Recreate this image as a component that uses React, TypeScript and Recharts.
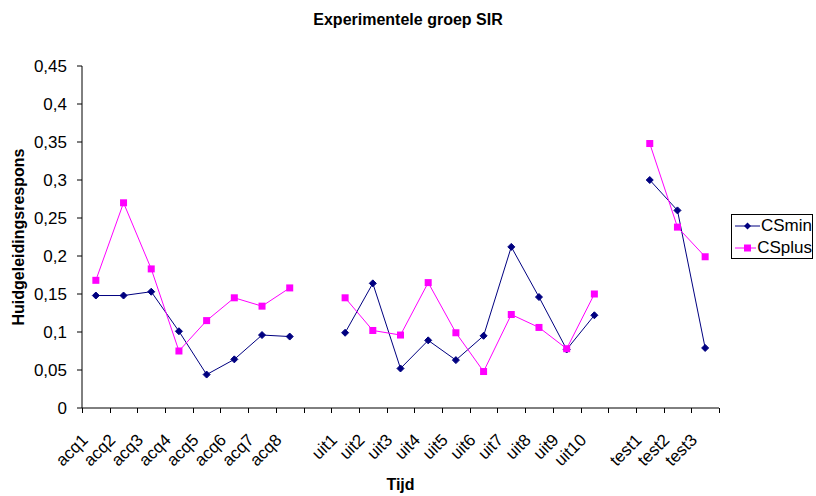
import { LineChart, Line, XAxis, YAxis, Legend } from 'recharts';

const categories = [
  'acq1', 'acq2', 'acq3', 'acq4', 'acq5', 'acq6', 'acq7', 'acq8', '',
  'uit1', 'uit2', 'uit3', 'uit4', 'uit5', 'uit6', 'uit7', 'uit8', 'uit9', 'uit10', '',
  'test1', 'test2', 'test3',
];

const csMin = [
  0.148, 0.148, 0.153, 0.101, 0.044, 0.064, 0.096, 0.094, null,
  0.099, 0.164, 0.052, 0.089, 0.063, 0.095, 0.212, 0.146, 0.077, 0.122, null,
  0.3, 0.26, 0.079,
];

const csPlus = [
  0.168, 0.27, 0.183, 0.075, 0.115, 0.145, 0.134, 0.158, null,
  0.145, 0.102, 0.096, 0.165, 0.099, 0.048, 0.123, 0.106, 0.078, 0.15, null,
  0.348, 0.238, 0.199,
];

const yTicks = [0, 0.05, 0.1, 0.15, 0.2, 0.25, 0.3, 0.35, 0.4, 0.45];

const data = categories.map((name, i) => ({
  name,
  CSmin: csMin[i],
  CSplus: csPlus[i],
}));

const FONT = 'Arial, "Liberation Sans", sans-serif';
const NAVY = '#000080';
const MAGENTA = '#FF00FF';

const WIDTH = 816;
const HEIGHT = 496;
const MARGIN = { top: 66, right: 97, left: 0, bottom: 0 };
const Y_AXIS_WIDTH = 82;
const PLOT_WIDTH = WIDTH - MARGIN.right - Y_AXIS_WIDTH;
// width of one category slot (Excel-style ticks sit between categories)
const STEP = PLOT_WIDTH / categories.length;

const Diamond = (props: any) => {
  const { cx, cy, index } = props;
  if (cx == null || cy == null) return <g key={`d${index}`} />;
  const r = 3.5;
  return (
    <polygon
      key={`d${index}`}
      points={`${cx},${cy - r} ${cx + r},${cy} ${cx},${cy + r} ${cx - r},${cy}`}
      fill={NAVY}
      stroke={NAVY}
    />
  );
};

const Square = (props: any) => {
  const { cx, cy, index } = props;
  if (cx == null || cy == null) return <g key={`s${index}`} />;
  const s = 7;
  return <rect key={`s${index}`} x={cx - s / 2} y={cy - s / 2} width={s} height={s} fill={MAGENTA} />;
};

const CategoryTick = (props: any) => {
  const { x, y, payload } = props;
  const i = payload && typeof payload.index === 'number' ? payload.index : props.index;
  const left = Math.round(x - STEP / 2) + 0.5;
  const right = Math.round(x + STEP / 2) + 0.5;
  return (
    <g>
      <path d={`M${left},${y}V${y + 5}`} stroke="#000" strokeWidth={1} fill="none" />
      {i === categories.length - 1 && (
        <path d={`M${right},${y}V${y + 5}`} stroke="#000" strokeWidth={1} fill="none" />
      )}
      <text
        x={x - 7}
        y={y + 33}
        textAnchor="end"
        transform={`rotate(-45 ${x - 7} ${y + 33})`}
        fontSize={17}
        fontFamily={FONT}
        fill="#000"
      >
        {payload.value}
      </text>
    </g>
  );
};

const LegendBox = () => (
  <div
    style={{
      boxSizing: 'border-box',
      width: 82,
      height: 45,
      border: '1px solid #000',
      background: '#fff',
      fontFamily: FONT,
      fontSize: 17,
      padding: '0 0 0 3px',
      lineHeight: '22px',
      whiteSpace: 'nowrap',
    }}
  >
    {[
      { name: 'CSmin', color: NAVY, shape: 'diamond' },
      { name: 'CSplus', color: MAGENTA, shape: 'square' },
    ].map((item) => (
      <div key={item.name} style={{ display: 'flex', alignItems: 'center', height: 22 }}>
        <svg width={25} height={14} style={{ marginRight: 1 }}>
          <line x1={0} y1={7} x2={25} y2={7} stroke={item.color} strokeWidth={1} />
          {item.shape === 'diamond' ? (
            <polygon points="12.5,3.5 16,7 12.5,10.5 9,7" fill={item.color} />
          ) : (
            <rect x={9} y={3.5} width={7} height={7} fill={item.color} />
          )}
        </svg>
        <span>{item.name}</span>
      </div>
    ))}
  </div>
);

export default function App() {
  return (
    <div style={{ position: 'relative', width: WIDTH, height: HEIGHT, background: '#fff' }}>
      <style>{'body { margin: 0; }'}</style>
      <div
        style={{
          position: 'absolute',
          top: 11,
          left: 0,
          width: WIDTH,
          textAlign: 'center',
          fontFamily: FONT,
          fontWeight: 'bold',
          fontSize: 16,
        }}
      >
        Experimentele groep SIR
      </div>
      <LineChart width={WIDTH} height={HEIGHT} data={data} margin={MARGIN}>
        <XAxis
          dataKey="name"
          padding={{ left: STEP / 2, right: STEP / 2 }}
          height={88}
          tickLine={false}
          tickSize={0}
          tickMargin={0}
          tick={<CategoryTick />}
          interval={0}
          stroke="#000"
          label={{
            value: 'Tijd',
            position: 'insideBottom',
            offset: 6,
            fontFamily: FONT,
            fontWeight: 'bold',
            fontSize: 16,
            fill: '#000',
          }}
        />
        <YAxis
          width={Y_AXIS_WIDTH}
          domain={[0, 0.45]}
          ticks={yTicks}
          tickFormatter={(v: number) => String(v).replace('.', ',')}
          tick={{ fontSize: 17, fontFamily: FONT, fill: '#000' }}
          tickSize={5}
          tickMargin={10}
          stroke="#000"
          label={{
            value: 'Huidgeleidingsrespons',
            angle: -90,
            position: 'insideLeft',
            offset: 18,
            style: { textAnchor: 'middle' },
            fontFamily: FONT,
            fontWeight: 'bold',
            fontSize: 16,
            fill: '#000',
          }}
        />
        <Legend
          layout="vertical"
          align="center"
          verticalAlign="middle"
          content={<LegendBox />}
          wrapperStyle={{ position: 'absolute', left: 731, top: 214, width: 82, height: 45 }}
        />
        <Line
          dataKey="CSmin"
          stroke={NAVY}
          strokeWidth={1}
          dot={<Diamond />}
          activeDot={false}
          isAnimationActive={false}
        />
        <Line
          dataKey="CSplus"
          stroke={MAGENTA}
          strokeWidth={1}
          dot={<Square />}
          activeDot={false}
          isAnimationActive={false}
        />
      </LineChart>
    </div>
  );
}
